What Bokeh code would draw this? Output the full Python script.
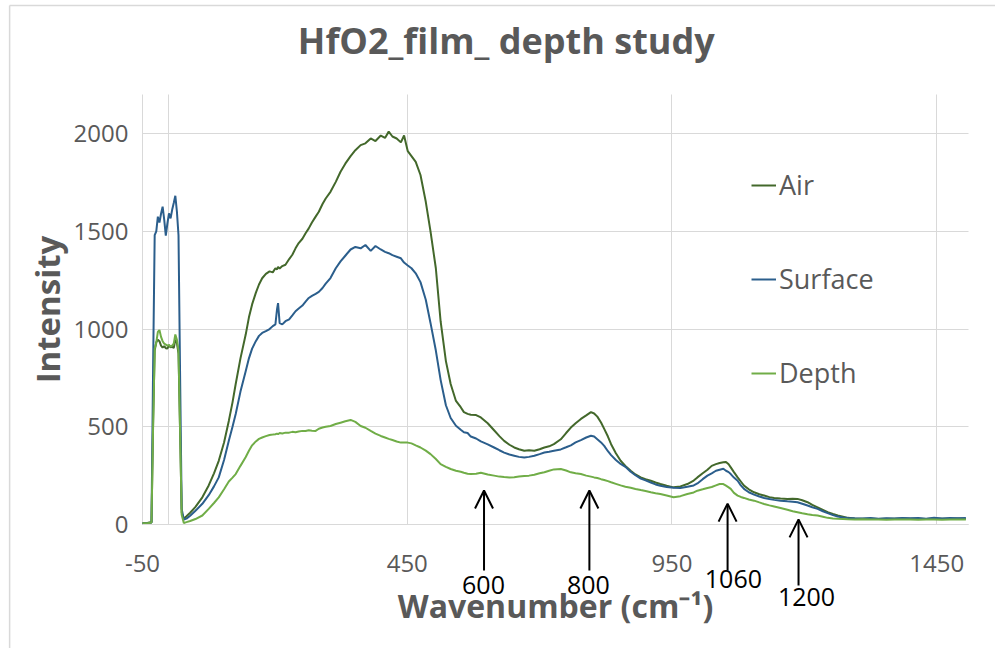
from bokeh.plotting import figure
from bokeh.models import (Range1d, Legend, LegendItem, Arrow, OpenHead, Label, FixedTicker)
from bokeh.embed import file_html
from bokeh.resources import INLINE

# ---------------- data ----------------
wavenumber = [
    -50, -40, -33, -30, -27, -24, -21, -18, -15, -12,
    -9, -6, -3, 0, 3, 6, 9, 12, 15, 18,
    21, 24, 28, 33, 40, 50, 63, 75, 85, 94,
    104, 113, 120, 126, 135, 145, 151, 157, 164, 170,
    176, 183, 190, 196, 201, 204, 206, 209, 214, 220,
    227, 233, 239, 245, 252, 258, 264, 270, 277, 283,
    290, 296, 305, 315, 324, 333, 343, 352, 362, 371,
    381, 390, 400, 408, 415, 422, 430, 438, 444, 451,
    458, 466, 475, 485, 494, 504, 513, 523, 532, 542,
    551, 557, 564, 570, 580, 589, 602, 614, 624, 633,
    643, 652, 661, 671, 680, 690, 700, 709, 718, 727,
    740, 750, 759, 768, 778, 788, 797, 803, 809, 816,
    822, 829, 835, 844, 853, 862, 872, 881, 891, 900,
    910, 919, 928, 940, 953, 966, 979, 991, 998, 1008,
    1017, 1025, 1033, 1040, 1047, 1052, 1057, 1061, 1067, 1074,
    1080, 1086, 1095, 1105, 1115, 1124, 1134, 1143, 1155, 1168,
    1178, 1187, 1196, 1206, 1215, 1225, 1235, 1244, 1254, 1263,
    1273, 1282, 1295, 1310, 1325, 1340, 1355, 1370, 1385, 1400,
    1415, 1430, 1445, 1460, 1475, 1490, 1505,
]

air = [
    8, 9, 12, 520, 890, 932, 945, 938, 915, 905,
    912, 902, 900, 918, 906, 910, 903, 945, 928, 875,
    470, 60, 30, 42, 60, 90, 139, 200, 262, 326,
    420, 530, 625, 719, 850, 973, 1060, 1126, 1185, 1228,
    1260, 1282, 1295, 1290, 1311, 1305, 1318, 1310, 1322, 1329,
    1358, 1380, 1413, 1440, 1462, 1490, 1515, 1545, 1575, 1600,
    1640, 1668, 1702, 1753, 1805, 1846, 1885, 1915, 1941, 1950,
    1975, 1962, 1990, 1978, 2010, 1985, 1975, 1955, 1990, 1910,
    1885, 1855, 1788, 1651, 1498, 1311, 1040, 836, 719, 632,
    600, 575, 566, 562, 560, 548, 518, 482, 452, 428,
    408, 394, 385, 377, 380, 377, 385, 394, 400, 411,
    436, 468, 496, 518, 540, 558, 575, 568, 552, 522,
    489, 450, 411, 365, 326, 300, 275, 256, 241, 232,
    224, 215, 207, 198, 190, 195, 207, 225, 241, 262,
    280, 300, 309, 315, 318, 320, 308, 292, 268, 241,
    220, 199, 180, 165, 155, 148, 140, 136, 133, 131,
    132, 131, 124, 114, 100, 88, 75, 63, 54, 46,
    40, 34, 31, 29, 30, 28, 30, 29, 31, 29,
    30, 28, 31, 29, 30, 31, 30,
]

surface = [
    5, 6, 10, 800, 1480, 1500, 1575, 1545, 1590, 1626,
    1560, 1478, 1540, 1592, 1566, 1610, 1645, 1682, 1600, 1480,
    760, 80, 25, 30, 45, 70, 106, 150, 195, 241,
    330, 428, 500, 565, 680, 785, 850, 900, 938, 965,
    980, 989, 1000, 1015, 1024, 1100, 1133, 1030, 1024, 1040,
    1050, 1070, 1091, 1105, 1120, 1140, 1159, 1170, 1180, 1190,
    1210, 1232, 1261, 1311, 1346, 1375, 1407, 1420, 1413, 1430,
    1400, 1425, 1407, 1395, 1388, 1378, 1370, 1362, 1340, 1325,
    1311, 1285, 1240, 1150, 1030, 890, 740, 610, 545, 505,
    485, 472, 468, 450, 440, 425, 410, 394, 380, 368,
    358, 352, 346, 343, 346, 352, 360, 368, 372, 377,
    384, 395, 405, 420, 432, 445, 454, 450, 436, 420,
    402, 375, 355, 330, 310, 295, 270, 252, 235, 226,
    215, 205, 198, 192, 188, 187, 193, 200, 210, 232,
    250, 262, 275, 280, 285, 275, 268, 258, 240, 224,
    200, 182, 165, 153, 143, 136, 130, 126, 122, 119,
    117, 114, 106, 97, 88, 80, 68, 58, 48, 41,
    36, 33, 32, 31, 33, 30, 32, 31, 33, 32,
    33, 30, 34, 31, 33, 32, 33,
]

depth = [
    6, 6, 10, 500, 900, 930, 985, 995, 960, 938,
    925, 920, 915, 918, 910, 915, 925, 972, 945, 890,
    480, 50, 8, 12, 18, 28, 46, 80, 110, 139,
    180, 220, 240, 258, 300, 345, 377, 405, 425, 438,
    445, 452, 458, 460, 462, 465, 462, 468, 466, 470,
    470, 474, 472, 476, 479, 478, 482, 480, 479, 490,
    496, 500, 504, 514, 521, 528, 535, 525, 504, 495,
    479, 465, 453, 445, 438, 432, 425, 419, 420, 419,
    415, 405, 394, 378, 360, 335, 309, 295, 284, 275,
    270, 265, 260, 258, 260, 265, 256, 250, 245, 243,
    241, 242, 245, 248, 250, 255, 262, 267, 275, 282,
    284, 276, 267, 262, 258, 250, 245, 241, 238, 232,
    228, 222, 216, 208, 200, 193, 188, 182, 176, 171,
    165, 160, 156, 148, 139, 145, 156, 164, 173, 180,
    187, 192, 200, 207, 207, 199, 190, 182, 162, 148,
    141, 136, 128, 122, 113, 105, 98, 92, 84, 75,
    68, 63, 58, 53, 49, 46, 40, 34, 31, 29,
    28, 27, 26, 27, 25, 26, 24, 26, 25, 26,
    24, 26, 25, 24, 26, 25, 26,
]

series_names = ["Air", "Surface", "Depth"]
x_ticks = [-50, 450, 950, 1450]
x_grid_lines = [-50, 0, 450, 950, 1450]
y_ticks = [0, 500, 1000, 1500, 2000]
x_min, x_max = -50, 1510
y_min, y_max = 0, 2200

# annotated peaks
peak_labels = ["600", "800", "1060", "1200"]
peak_x = [595, 794, 1055, 1189]
peak_tip = [174, 174, 107, 26]
peak_base = [-235, -235, -235, -312]
peak_label_x = [594, 792, 1066, 1204]
peak_label_y = [-310, -310, -280, -370]

# ---------------- figure ----------------
FONT = "Open Sans"
GRAY = "#595959"
GRID = "#d9d9d9"

# the frame covers the whole canvas; the axes are pinned with fixed_location
p = figure(width=995, height=648, output_backend="svg", toolbar_location=None,
           x_range=Range1d(-318.2, 1561.0), y_range=Range1d(-634.4, 2680.9),
           min_border=0)
p.title.text = ""
p.title.visible = False
p.outline_line_color = None
p.background_fill_color = "white"
p.border_fill_color = "white"

for ax in (p.xaxis[0], p.yaxis[0]):
    ax.major_tick_line_color = None
    ax.minor_tick_line_color = None
    ax.major_tick_out = 0
    ax.major_tick_in = 0
    ax.minor_tick_out = 0
    ax.minor_tick_in = 0
    ax.major_label_text_font = FONT
    ax.major_label_text_font_size = "24px"
    ax.major_label_text_color = GRAY
    ax.axis_label_text_font = FONT
    ax.axis_label_text_font_size = "32px"
    ax.axis_label_text_font_style = "bold"
    ax.axis_label_text_color = GRAY

p.xaxis.ticker = FixedTicker(ticks=x_ticks)
p.yaxis.ticker = FixedTicker(ticks=y_ticks)
p.xaxis.major_label_overrides = {-50: "-50"}
p.xaxis.fixed_location = y_min
p.yaxis.fixed_location = x_min
p.xaxis.bounds = (x_min, x_max)
p.yaxis.bounds = (y_min, y_max)
p.xaxis.axis_line_color = GRID
p.yaxis.axis_line_color = None
p.xaxis.axis_label = "Wavenumber (cm\u207b\u00b9)"
p.yaxis.axis_label = "Intensity"
p.yaxis.axis_label_text_font_size = "33px"
p.xaxis.major_label_standoff = 30
p.xaxis.axis_label_standoff = 9
p.yaxis.major_label_standoff = 14
p.yaxis.axis_label_standoff = 1

# grid lines limited to the plot area
p.xgrid.ticker = FixedTicker(ticks=x_grid_lines)
p.ygrid.ticker = FixedTicker(ticks=y_ticks)
if "cross_bounds" in p.xgrid[0].properties():
    p.xgrid.cross_bounds = (y_min, y_max)
    p.ygrid.cross_bounds = (x_min, x_max)
    p.xgrid.grid_line_color = GRID
    p.ygrid.grid_line_color = GRID
else:
    p.xgrid.visible = False
    p.ygrid.visible = False
    p.segment(x0=x_grid_lines, y0=[y_min] * len(x_grid_lines), x1=x_grid_lines,
              y1=[y_max] * len(x_grid_lines), line_color=GRID, line_width=1)
    p.segment(x0=[x_min] * len(y_ticks), y0=y_ticks, x1=[x_max] * len(y_ticks),
              y1=y_ticks, line_color=GRID, line_width=1)

colors = ["#43682b", "#2b5e8c", "#70ad47"]
renderers = []
for name, ys, c in zip(series_names, [air, surface, depth], colors):
    r = p.line(wavenumber, ys, line_color=c, line_width=2)
    renderers.append(r)

legend = Legend(items=[LegendItem(label=n, renderers=[r]) for n, r in zip(series_names, renderers)],
                location=(751, 257), orientation="vertical",
                label_text_font=FONT, label_text_font_size="27px", label_text_color=GRAY,
                glyph_width=25, glyph_height=30, label_height=30, spacing=57,
                padding=0, margin=0, border_line_color=None, background_fill_alpha=0,
                label_standoff=3)
p.add_layout(legend)

# title
p.add_layout(Label(x=637, y=2476, text="HfO2_film_ depth study", text_align="center",
                   text_baseline="middle", text_font=FONT, text_font_size="36px",
                   text_font_style="bold", text_color=GRAY))

# peak arrows
for lab, xa, yt, yb, lx, ly in zip(peak_labels, peak_x, peak_tip, peak_base, peak_label_x, peak_label_y):
    p.add_layout(Arrow(end=OpenHead(size=18, line_width=2, line_color="black"),
                       x_start=xa, y_start=yb, x_end=xa, y_end=yt,
                       line_color="black", line_width=2))
    p.add_layout(Label(x=lx, y=ly, text=lab, text_align="center", text_baseline="middle",
                       text_font=FONT, text_font_size="25px", text_color="black"))

# chart-area border (light gray, left and top edges)
p.add_layout(Arrow(end=None, start=None, x_start=-301, y_start=-900, x_end=-301, y_end=2655,
                   line_color=GRID, line_width=1.5))
p.add_layout(Arrow(end=None, start=None, x_start=-301, y_start=2655, x_end=1700, y_end=2655,
                   line_color=GRID, line_width=1.5))

open("out.html", "w").write(file_html(p, INLINE))
